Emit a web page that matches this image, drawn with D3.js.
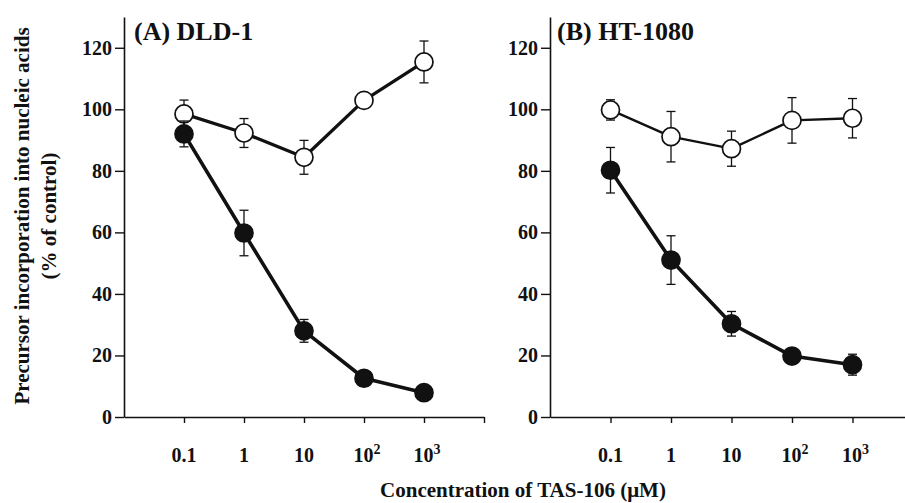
<!DOCTYPE html>
<html>
<head>
<meta charset="utf-8">
<script src="https://cdn.jsdelivr.net/npm/d3@7"></script>
<style>
  body { margin: 0; background: #fff; }
  svg { display: block; }
  text { font-family: "Liberation Serif", "Times New Roman", serif; font-weight: bold; fill: #111; }
</style>
</head>
<body>
<svg id="chart" width="905" height="503"></svg>
<script>
// concentrations of TAS-106 (uM)
var conc = [0.1, 1, 10, 100, 1000];

// (A) DLD-1
var dldOpen = [98.5, 92.3, 84.4, 102.9, 115.4];
var dldOpenErr = [4.5, 4.7, 5.5, 1.5, 6.8];
var dldFilled = [92.0, 59.8, 28.0, 12.6, 7.9];
var dldFilledErr = [4.2, 7.4, 3.7, 1.0, 1.0];

// (B) HT-1080
var htOpen = [99.8, 91.1, 87.2, 96.4, 97.1];
var htOpenErr = [3.3, 8.2, 5.7, 7.4, 6.4];
var htFilled = [80.2, 51.0, 30.3, 19.8, 17.0];
var htFilledErr = [7.4, 7.9, 4.0, 1.5, 3.4];

var yTicks = [0, 20, 40, 60, 80, 100, 120];
var xTicks = [0.1, 1, 10, 100, 1000, 10000];
var xTickLabels = [["0.1", ""], ["1", ""], ["10", ""], ["10", "2"], ["10", "3"], ["", ""]];

var svg = d3.select("#chart");

var y = d3.scaleLinear().domain([0, 130]).range([417, 17]);

function drawPanel(opt) {
    var x = d3.scaleLog().domain([0.01, 10000]).range([opt.x0, opt.x1]);
    var g = svg.append("g");

    // axes
    var xAxis = d3.axisBottom(x).tickValues(xTicks).tickSize(6).tickSizeOuter(0).tickFormat("");
    var gx = g.append("g").attr("transform", "translate(0," + y(0) + ")").call(xAxis);
    gx.select(".domain").attr("stroke", "#111").attr("stroke-width", 1.6);
    gx.selectAll(".tick line").attr("stroke", "#111").attr("stroke-width", 1.4);

    var yAxis = d3.axisLeft(y).tickValues(yTicks).tickSize(9).tickSizeOuter(0).tickPadding(3);
    var gy = g.append("g").attr("transform", "translate(" + opt.x0 + ",0)").call(yAxis);
    gy.select(".domain").attr("stroke", "#111").attr("stroke-width", 1.6);
    gy.selectAll(".tick line").attr("stroke", "#111").attr("stroke-width", 1.4);
    gy.selectAll(".tick text").attr("font-size", 20).attr("fill", "#111")
        .attr("font-family", '"Liberation Serif", serif').attr("font-weight", "bold");

    // x tick labels with superscripts
    xTicks.forEach(function(t, i) {
        var lab = xTickLabels[i];
        if (!lab[0]) return;
        var tx = g.append("text")
            .attr("x", x(t) + (lab[1] ? 3 : 0))
            .attr("y", 462)
            .attr("text-anchor", "middle")
            .attr("font-size", 20)
            .text(lab[0]);
        if (lab[1]) {
            tx.append("tspan").attr("dy", -8).attr("font-size", 14).text(lab[1]);
        }
    });

    // panel title
    g.append("text")
        .attr("x", opt.titleX)
        .attr("y", 40)
        .attr("font-size", 26)
        .text(opt.title);

    var series = [
        {vals: opt.open, err: opt.openErr, fill: "#fff", lw: opt.openLw},
        {vals: opt.filled, err: opt.filledErr, fill: "#111", lw: opt.filledLw}
    ];

    var line = d3.line()
        .x(function(d) { return x(d[0]); })
        .y(function(d) { return y(d[1]); });

    series.forEach(function(s) {
        var pts = conc.map(function(c, i) { return [c, s.vals[i], s.err[i]]; });

        // error bars
        var eb = g.append("g").attr("stroke", "#111").attr("stroke-width", 1.3);
        pts.forEach(function(p) {
            var cx = x(p[0]);
            eb.append("line").attr("x1", cx).attr("x2", cx)
                .attr("y1", y(p[1] + p[2])).attr("y2", y(p[1] - p[2]));
            eb.append("line").attr("x1", cx - 4.5).attr("x2", cx + 4.5)
                .attr("y1", y(p[1] + p[2])).attr("y2", y(p[1] + p[2]));
            eb.append("line").attr("x1", cx - 4.5).attr("x2", cx + 4.5)
                .attr("y1", y(p[1] - p[2])).attr("y2", y(p[1] - p[2]));
        });

        g.append("path")
            .attr("d", line(pts))
            .attr("fill", "none")
            .attr("stroke", "#111")
            .attr("stroke-width", s.lw)
            .attr("stroke-linejoin", "round");

        g.selectAll(null)
            .data(pts)
            .enter()
            .append("circle")
            .attr("cx", function(d) { return x(d[0]); })
            .attr("cy", function(d) { return y(d[1]); })
            .attr("r", 9)
            .attr("fill", s.fill)
            .attr("stroke", "#111")
            .attr("stroke-width", 1.7);
    });
}

drawPanel({
    x0: 124, x1: 484, title: "(A) DLD-1", titleX: 134,
    open: dldOpen, openErr: dldOpenErr, filled: dldFilled, filledErr: dldFilledErr,
    openLw: 3.3, filledLw: 3.6
});

drawPanel({
    x0: 550, x1: 913, title: "(B) HT-1080", titleX: 557,
    open: htOpen, openErr: htOpenErr, filled: htFilled, filledErr: htFilledErr,
    openLw: 2.4, filledLw: 3.6
});

// axis titles
svg.append("text")
    .attr("transform", "translate(29,216) rotate(-90)")
    .attr("text-anchor", "middle")
    .attr("font-size", 21)
    .text("Precursor incorporation into nucleic acids");
svg.append("text")
    .attr("transform", "translate(56,216) rotate(-90)")
    .attr("text-anchor", "middle")
    .attr("font-size", 21)
    .text("(% of control)");

svg.append("text")
    .attr("x", 523)
    .attr("y", 497)
    .attr("text-anchor", "middle")
    .attr("font-size", 21)
    .text("Concentration of TAS-106 (\u03BCM)");
</script>
</body>
</html>
